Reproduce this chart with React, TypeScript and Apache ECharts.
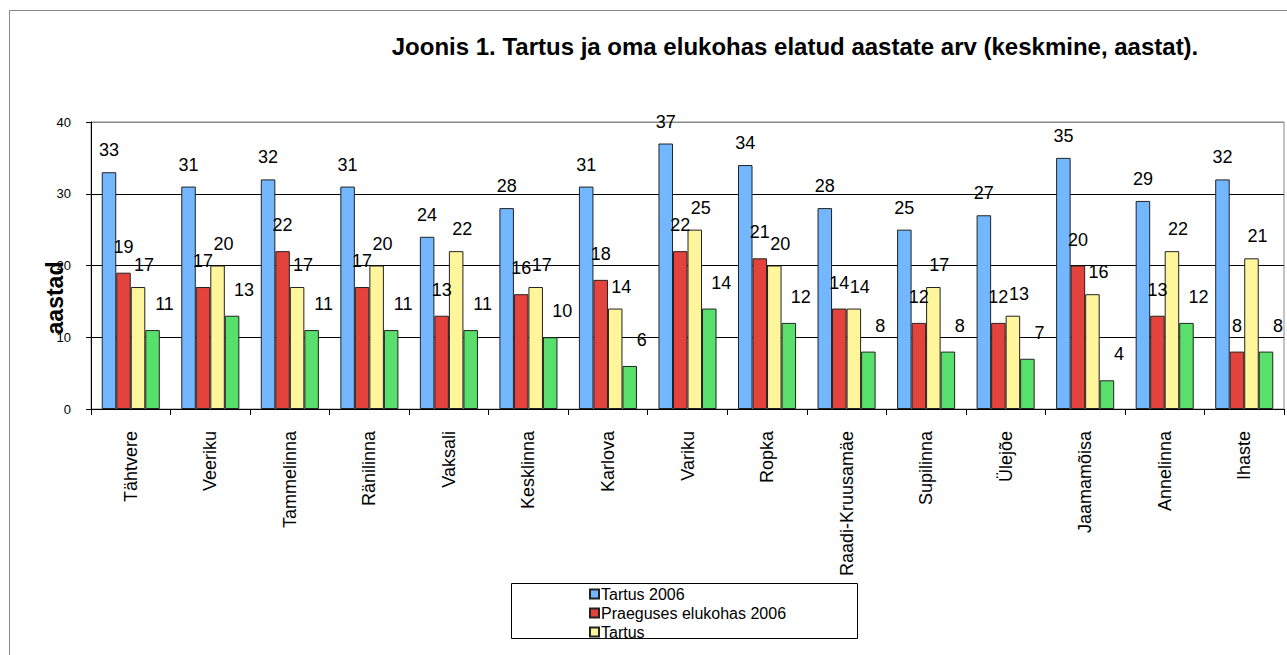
import React, { useEffect, useRef } from "react";
import * as echarts from "echarts";

const categories = [
  "Tähtvere", "Veeriku", "Tammelinna", "Ränilinna", "Vaksali", "Kesklinna", "Karlova",
  "Variku", "Ropka", "Raadi-Kruusamäe", "Supilinna", "Ülejõe", "Jaamamõisa", "Annelinna", "Ihaste",
];
const tartus2006 = [33, 31, 32, 31, 24, 28, 31, 37, 34, 28, 25, 27, 35, 29, 32];
const praeguses2006 = [19, 17, 22, 17, 13, 16, 18, 22, 21, 14, 12, 12, 20, 13, 8];
const tartus = [17, 20, 17, 20, 22, 17, 14, 25, 20, 14, 17, 13, 16, 22, 21];
const praeguses = [11, 13, 11, 11, 11, 10, 6, 14, 12, 8, 8, 7, 4, 12, 8];
const yTicks = [0, 10, 20, 30, 40];

const FONT = "'Liberation Sans', Arial, sans-serif";

export default function App() {
  const ref = useRef<HTMLDivElement>(null);
  useEffect(() => {
    document.body.style.margin = "0";
    const chart = echarts.init(ref.current!, null, { renderer: "svg" });
    const mkSeries = (name: string, data: number[], color: string, offset: number[]) => ({
      name,
      type: "bar",
      data,
      barGap: "0%",
      barCategoryGap: "27%",
      itemStyle: { color, borderColor: "#222", borderWidth: 1 },
      label: {
        show: true,
        position: "top",
        offset,
        color: "#000",
        fontSize: 18,
        fontFamily: FONT,
      },
    });
    chart.setOption({
      animation: false,
      backgroundColor: "#fff",
      title: {
        text: "Joonis 1. Tartus ja oma elukohas elatud aastate arv (keskmine, aastat).",
        left: 790,
        top: 29,
        textAlign: "center",
        textStyle: { fontSize: 24, fontWeight: "bold", color: "#000", fontFamily: FONT },
      },
      legend: {
        data: ["Tartus 2006", "Praeguses elukohas 2006", "Tartus"],
        orient: "vertical",
        left: 584,
        top: 581,
        itemWidth: 9,
        itemHeight: 9,
        itemGap: 3,
        icon: "rect",
        textStyle: { fontSize: 16, color: "#000", fontFamily: FONT, padding: [0, 0, 0, -3] },
      },
      grid: {
        left: 91,
        right: 3,
        top: 122,
        bottom: 246,
        show: true,
        borderColor: "#888",
        borderWidth: 1,
      },
      xAxis: {
        type: "category",
        data: categories,
        axisLine: { lineStyle: { color: "#000" } },
        axisTick: { show: true, alignWithLabel: false, length: 6, lineStyle: { color: "#000" } },
        axisLabel: { rotate: 90, margin: 22, fontSize: 18, color: "#000", fontFamily: FONT, interval: 0 },
      },
      yAxis: {
        type: "value",
        min: yTicks[0],
        max: yTicks[yTicks.length - 1],
        interval: 10,
        axisLine: { show: true, lineStyle: { color: "#000" } },
        axisTick: { show: true, length: 5, lineStyle: { color: "#000" } },
        axisLabel: { fontSize: 13, color: "#000", margin: 20, fontFamily: FONT },
        splitLine: { show: true, lineStyle: { color: ["#000", "#000", "#000", "#000", "#888"], width: 1 } },
      },
      graphic: [
        {
          type: "rect",
          shape: { x: 9.5, y: 10.5, width: 1300, height: 700 },
          style: { fill: "none", stroke: "#888", lineWidth: 1 },
          silent: true,
          z: -1,
        },
        {
          type: "rect",
          shape: { x: 511.5, y: 583.5, width: 346, height: 55 },
          style: { fill: "none", stroke: "#000", lineWidth: 1 },
          silent: true,
        },
        {
          type: "text",
          x: 55,
          y: 298,
          rotation: Math.PI / 2,
          style: {
            text: "aastad",
            font: `bold 23px ${FONT}`,
            fill: "#000",
            textAlign: "center",
            textVerticalAlign: "middle",
          },
        },
      ],
      series: [
        mkSeries("Tartus 2006", tartus2006, "#72B7FF", [0, -8]),
        mkSeries("Praeguses elukohas 2006", praeguses2006, "#E4433D", [0, -12]),
        mkSeries("Tartus", tartus, "#FFF59B", [6, -8]),
        mkSeries("Praeguses elukohas", praeguses, "#59DF6B", [12, -12]),
      ],
    });
    return () => chart.dispose();
  }, []);
  return <div ref={ref} style={{ width: 1287, height: 655 }} />;
}
